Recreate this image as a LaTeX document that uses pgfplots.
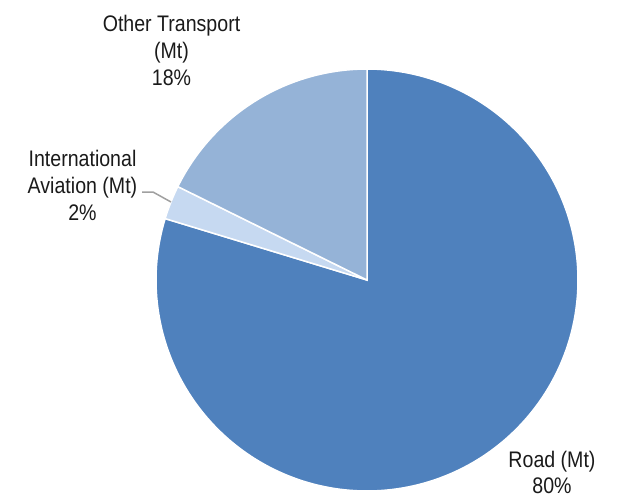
\documentclass[border=0pt]{standalone}
\usepackage{fontspec}
\setmainfont{Liberation Sans}[FakeStretch=0.87]
\usepackage{pgfplots}
\usepackage{pgfplotstable}
\pgfplotsset{compat=1.18}
\definecolor{road}{HTML}{4F81BD}
\definecolor{other}{HTML}{95B3D7}
\definecolor{avia}{HTML}{C6D9F1}
\definecolor{txt}{HTML}{1A1A1A}
\definecolor{lead}{HTML}{A0A0A0}
\newcommand\lblfont{\fontsize{22.5bp}{27bp}\selectfont}
\tikzset{lbl/.style={anchor=base, text=txt, font=\lblfont, inner sep=0pt}}
% shares (%): Road 79.7, International Aviation 2.6, Other Transport 17.7
\pgfplotstableread{
label value
Road 79.7
Aviation 2.6
Other 17.7
}\piedata
\begin{document}
\begin{tikzpicture}
\useasboundingbox (0,0) rectangle (624bp,500bp);
\begin{axis}[
  at={(0,0)}, anchor=south west,
  scale only axis, width=624bp, height=500bp,
  xmin=0, xmax=624, ymin=0, ymax=500, y dir=reverse,
  hide axis, clip=false,
]
% Road: from 90 deg clockwise by 3.6*79.7
\addplot[fill=road, draw=white, line width=1.5bp, variable=t, domain=90:90-3.6*79.7, samples=200]
  ({367+211*cos(t)}, {280-211*sin(t)}) -- (axis cs:367,280) -- cycle;
% International Aviation
\addplot[fill=avia, draw=white, line width=1.5bp, variable=t, domain=90-3.6*79.7:90-3.6*82.3, samples=10]
  ({367+211*cos(t)}, {280-211*sin(t)}) -- (axis cs:367,280) -- cycle;
% Other Transport
\addplot[fill=other, draw=white, line width=1.5bp, variable=t, domain=90-3.6*82.3:90-3.6*100, samples=60]
  ({367+211*cos(t)}, {280-211*sin(t)}) -- (axis cs:367,280) -- cycle;
% leader line
\addplot[lead, line width=1.5bp] coordinates {(142,192) (153,192) (171,202)};
% labels
\node[lbl] at (axis cs:171.5,31) {Other Transport};
\node[lbl] at (axis cs:171.5,58) {(Mt)};
\node[lbl] at (axis cs:171.5,85) {18\%};
\node[lbl] at (axis cs:82.5,166) {International};
\node[lbl] at (axis cs:82.5,193) {Aviation (Mt)};
\node[lbl] at (axis cs:82.5,220) {2\%};
\node[lbl] at (axis cs:552,467) {Road (Mt)};
\node[lbl] at (axis cs:552,493) {80\%};
\end{axis}
\end{tikzpicture}
\end{document}
